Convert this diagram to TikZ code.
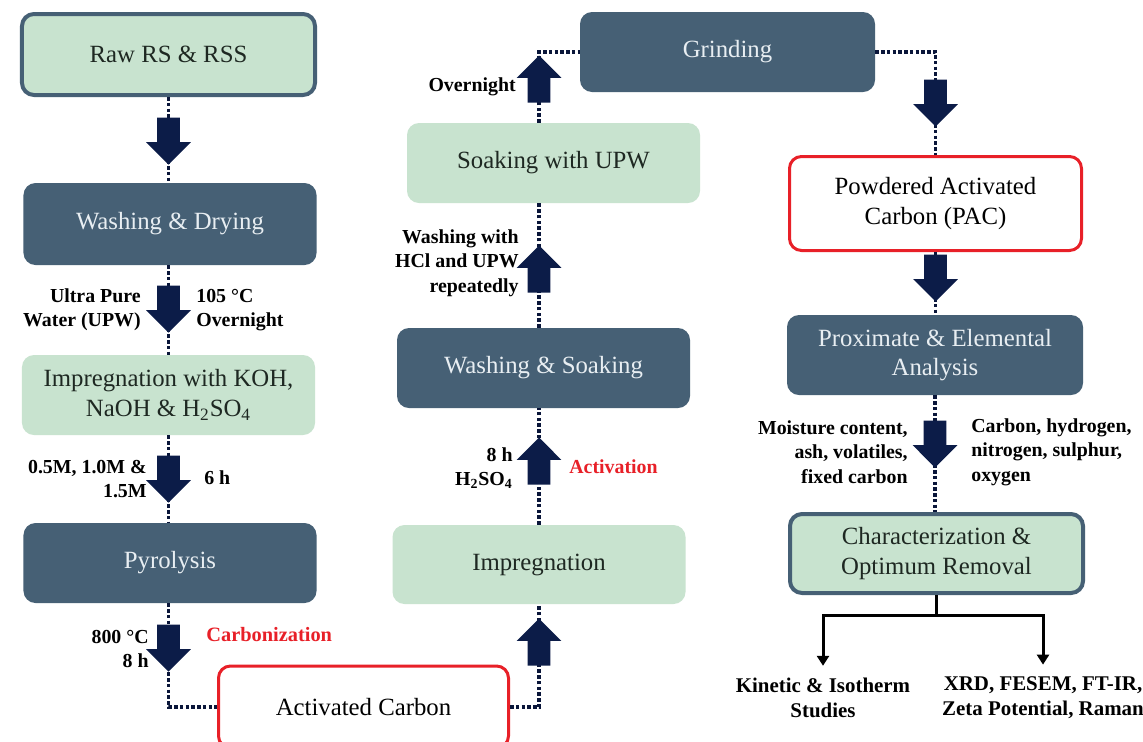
\documentclass[tikz,border=0pt]{standalone}
\usepackage{fontspec}
\setmainfont{Liberation Serif}
\usetikzlibrary{arrows.meta, shapes.arrows}

\definecolor{mint}{RGB}{200,227,207}
\definecolor{slate}{RGB}{70,96,117}
\definecolor{navy}{RGB}{12,28,72}
\definecolor{redline}{RGB}{232,32,40}
\definecolor{pale}{RGB}{232,238,242}
\definecolor{ink}{RGB}{30,40,34}

\newcommand{\boxfont}{\fontsize{14.1}{16.8}\selectfont}
\newcommand{\lblfont}{\bfseries\fontsize{11.3}{13.9}\selectfont}

\tikzset{
  box/.style={rounded corners=2.4mm, align=center, inner sep=0pt,
    minimum width=58.6mm, minimum height=16mm, font=\boxfont},
  greenbox/.style={box, fill=mint, text=ink},
  darkbox/.style={box, fill=slate, text=pale},
  redbox/.style={box, draw=redline, line width=0.6mm, fill=white, text=black},
  dotline/.style={navy!80!black, line width=0.7mm, dash pattern=on 0.7mm off 0.45mm},
  blockarrow/.style={single arrow, fill=navy, inner xsep=0pt, inner ysep=2.2mm,
    single arrow head extend=2.2mm, minimum width=8.8mm, minimum height=9.4mm, anchor=tip},
  arrdown/.style={blockarrow, rotate=-90},
  arrup/.style={blockarrow, rotate=90},
  lbl/.style={font=\lblfont, inner sep=0pt},
  treeline/.style={line width=0.6mm, black}
}

\begin{document}
\begin{tikzpicture}[x=0.2mm, y=-0.2mm]
\fill[white] (0,0) rectangle (1143,741);
\useasboundingbox (0,0) rectangle (1143,741);

% left column
\node[greenbox, draw=slate, line width=0.8mm, minimum height=16.2mm] (raw) at (168.5,54.5) {Raw RS \& RSS};
\node[darkbox, minimum height=16.4mm] (wash) at (170,224) {Washing \& Drying};
\node[greenbox] (impkoh) at (168.5,395) {Impregnation with KOH,\\NaOH \& H\textsubscript{2}SO\textsubscript{4}};
\node[darkbox] (pyro) at (170,563) {Pyrolysis};
\node[redbox, minimum width=58mm, minimum height=16.4mm] (ac) at (363.5,707) {Activated Carbon};

% middle column
\node[greenbox, minimum height=15.8mm] (imp) at (539,564.5) {Impregnation};
\node[darkbox] (washsoak) at (543.5,368) {Washing \& Soaking};
\node[greenbox] (soak) at (553.5,163) {Soaking with UPW};
\node[darkbox, minimum width=59mm] (grind) at (727.5,52) {Grinding};

% right column
\node[redbox, minimum width=58.4mm, minimum height=18.8mm] (pac) at (935.5,203.5) {Powdered Activated\\Carbon (PAC)};
\node[darkbox, minimum width=59.2mm] (prox) at (935,355) {Proximate \& Elemental\\Analysis};
\node[greenbox, draw=slate, line width=0.8mm, minimum height=15.8mm] (charac) at (936.5,553.5) {Characterization \&\\Optimum Removal};
\node[lbl, align=center, font=\bfseries\fontsize{11.9}{14.2}\selectfont] (kin) at (823,698) {Kinetic \& Isotherm\\Studies};
\node[lbl, align=center, font=\bfseries\fontsize{11.9}{14.2}\selectfont] (xrd) at (1043,698) {XRD, FESEM, FT-IR,\\Zeta Potential, Raman};

% dotted links
\draw[dotline] (raw.south) -- (raw.south |- wash.north);
\draw[dotline] (raw.south |- wash.south) -- (raw.south |- impkoh.north);
\draw[dotline] (raw.south |- impkoh.south) -- (raw.south |- pyro.north);
\draw[dotline] (raw.south |- pyro.south) |- (ac.west);
\draw[dotline] (ac.east) -| (imp.south);
\draw[dotline] (imp.north) -- (imp.north |- washsoak.south);
\draw[dotline] (imp.north |- washsoak.north) -- (imp.north |- soak.south);
\draw[dotline] (imp.north |- soak.north) |- (grind.west);
\draw[dotline] (grind.east) -| (pac.north);
\draw[dotline] (pac.south) -- (pac.south |- prox.north);
\draw[dotline] (prox.south) -- (prox.south |- charac.north);

% results
\draw[treeline] (charac.south) -- ++(0,20) coordinate (split);
\draw[treeline, -{Triangle[width=2.4mm, length=2mm]}, shorten >=2.4mm] (split) -| (kin.north);
\draw[treeline, -{Triangle[width=2.4mm, length=2mm]}, shorten >=2.4mm] (split) -| (xrd.north);

% block arrows
\node[arrdown] (a1) at (168.5,165) {};
\node[arrdown] (a2) at (168.5,333) {};
\node[arrdown] (a3) at (168.5,503) {};
\node[arrdown] (a4) at (168.5,672) {};
\node[arrup] (a5) at (539,618) {};
\node[arrup] (a6) at (539,437) {};
\node[arrup] (a7) at (539,245) {};
\node[arrup] (a8) at (539,55) {};
\node[arrdown] (a9) at (935.5,127) {};
\node[arrdown] (a10) at (935.5,302) {};
\node[arrdown] (a11) at (935,468) {};

% labels
\node[lbl, anchor=east, align=right] (upw) at (141,310) {Ultra Pure\\Water (UPW)};
\node[lbl, anchor=west, align=left] (dry) at (196,310) {105 °C\\Overnight};
\node[lbl, anchor=east, align=right] (conc) at (147,479) {0.5M, 1.0M \&\\1.5M};
\node[lbl, anchor=west] (six) at (204,478) {6 h};
\node[lbl, anchor=east, align=right] (temp) at (149,649) {800 °C\\8 h};
\node[lbl, anchor=west, text=redline, font=\bfseries\fontsize{11.6}{14}\selectfont] (carb) at (206,635) {Carbonization};
\node[lbl, anchor=east, align=right] (hcl) at (519,263) {Washing with\\HCl and UPW\\repeatedly};
\node[lbl, anchor=east] (night) at (516,87) {Overnight};
\node[lbl, anchor=east, align=right] (acid) at (513,468) {8 h\\H\textsubscript{2}SO\textsubscript{4}};
\node[lbl, anchor=west, text=redline] (actv) at (569,467) {Activation};
\node[lbl, anchor=east, align=right] (prx) at (908,452) {Moisture content,\\ash, volatiles,\\fixed carbon};
\node[lbl, anchor=west, align=left] (elem) at (971,452) {Carbon, hydrogen,\\nitrogen, sulphur,\\oxygen};

\end{tikzpicture}
\end{document}
